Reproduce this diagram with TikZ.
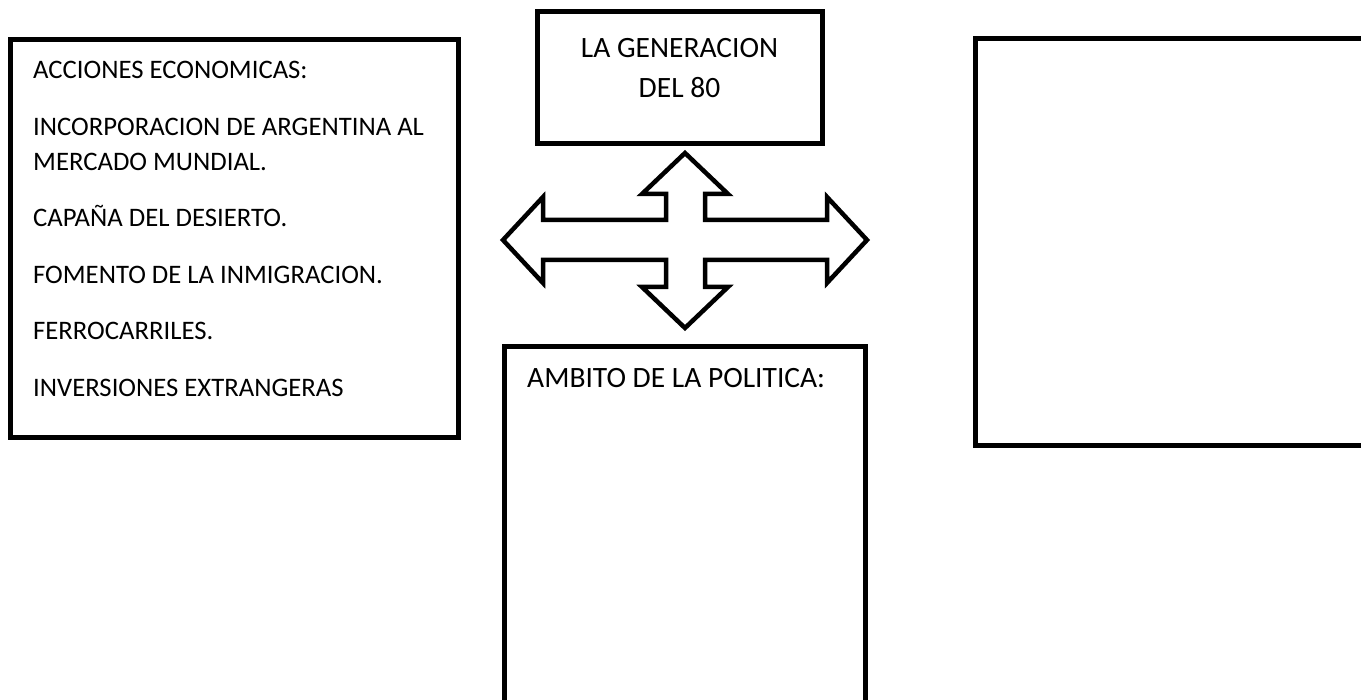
\documentclass[tikz,border=0pt]{standalone}
\usepackage{fontspec}
\setmainfont{Carlito}

\begin{document}
\begin{tikzpicture}[x=1pt, y=-1pt]
    % Define block styles
    \tikzstyle{block} = [draw, line width=5pt, fill=white, rectangle, inner sep=0pt]
    \tikzstyle{words} = [inner sep=0pt, align=left, font=\fontsize{26.7}{35}\selectfont]
    \tikzstyle{title} = [inner sep=0pt, align=center, font=\fontsize{29.5}{40}\selectfont]
    \tikzstyle{bigarrow} = [draw, line width=4.5pt, fill=white, line join=miter]

    \useasboundingbox (0,0) rectangle (1361,700);

    % Boxes
    \node [block, minimum width=448, minimum height=398] (econ) at (234,239) {};
    \node [block, minimum width=285, minimum height=132] (gen) at (679.5,78) {};
    \node [block, minimum width=361, minimum height=406] (pol) at (684.5,550) {};
    \node [block, minimum width=425, minimum height=407] (other) at (1187.5,242.5) {};

    % Texts
    \node [words, anchor=north west] (econtext) at (33,61) {ACCIONES ECONOMICAS:\\[21.5pt]
        INCORPORACION DE ARGENTINA AL\\
        MERCADO MUNDIAL.\\[21.5pt]
        CAPAÑA DEL DESIERTO.\\[21.5pt]
        FOMENTO DE LA INMIGRACION.\\[21.5pt]
        FERROCARRILES.\\[21.5pt]
        INVERSIONES EXTRANGERAS};
    \node [title, anchor=north] (gentext) at (679.5,38) {LA GENERACION\\DEL 80};
    \node [title, anchor=base west] (poltext) at (527,388) {AMBITO DE LA POLITICA:};

    % Four-way arrow
    \draw [bigarrow] (685,153) -- (728,194) -- (705,194) -- (705,220) -- (827,220)
        -- (827,197) -- (867,240) -- (827,283) -- (827,260) -- (705,260) -- (705,287)
        -- (728,287) -- (685,328) -- (642,287) -- (666,287) -- (666,260) -- (543,260)
        -- (543,283) -- (503,240) -- (543,197) -- (543,220) -- (666,220) -- (666,194)
        -- (642,194) -- cycle;
\end{tikzpicture}
\end{document}
